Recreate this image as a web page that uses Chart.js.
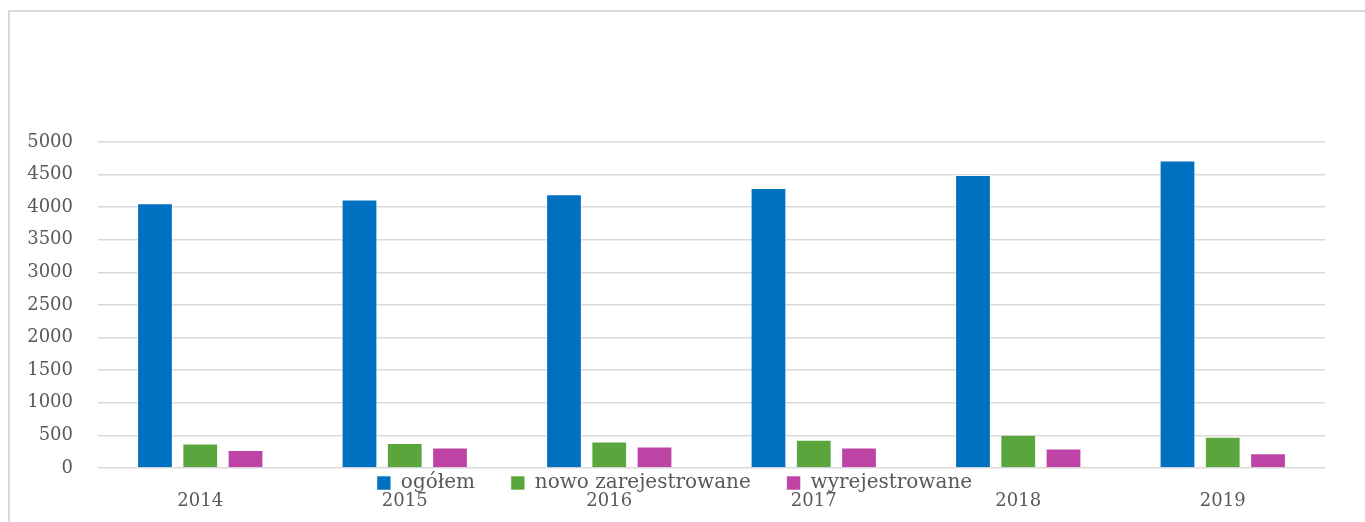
<!DOCTYPE html>
<html>
<head>
<meta charset="utf-8">
<script src="https://cdn.jsdelivr.net/npm/chart.js@4/dist/chart.umd.min.js"></script>
<style>
  body { margin: 0; background: #fff; }
  #wrap { width: 1365px; height: 522px; position: relative; }
</style>
</head>
<body>
<div id="wrap"><canvas id="regChart"></canvas></div>
<script>
// Years and series
const years = ['2014', '2015', '2016', '2017', '2018', '2019'];
const totalValues = [4060, 4120, 4200, 4295, 4495, 4715];
const newValues = [375, 385, 405, 435, 510, 480];
const removedValues = [275, 315, 330, 315, 300, 225];
const seriesNames = ['ogółem', 'nowo zarejestrowane', 'wyrejestrowane'];

// Colors for the series
const colors = ['#0070C0', '#5AA63C', '#BD44A4'];
const fontFamily = "'DejaVu Serif', 'Liberation Serif', serif";
const textColor = '#595959';

// Light frame round the chart (left and top edges only are visible)
const framePlugin = {
    id: 'frame',
    beforeDraw(chart) {
        const ctx = chart.ctx;
        ctx.save();
        ctx.strokeStyle = '#d9d9d9';
        ctx.lineWidth = 2;
        ctx.beginPath();
        ctx.moveTo(9, chart.height);
        ctx.lineTo(9, 11);
        ctx.lineTo(chart.width, 11);
        ctx.stroke();
        ctx.restore();
    }
};

// The legend sits right under the plot, over the year labels
const legendUpPlugin = {
    id: 'legendUp',
    afterLayout(chart) {
        const legend = chart.legend;
        const h = legend.height;
        legend.top = chart.chartArea.bottom + 1;
        legend.bottom = legend.top + h;
    }
};

const ctx = document.getElementById('regChart').getContext('2d');
new Chart(ctx, {
    type: 'bar',
    data: {
        labels: years,
        datasets: [
            { label: seriesNames[0], data: totalValues, backgroundColor: colors[0] },
            { label: seriesNames[1], data: newValues, backgroundColor: colors[1] },
            { label: seriesNames[2], data: removedValues, backgroundColor: colors[2] }
        ].map(ds => Object.assign(ds, {
            borderColor: 'rgba(255,255,255,0.6)',
            borderWidth: 1,
            categoryPercentage: 0.664,
            barPercentage: 0.79
        }))
    },
    options: {
        responsive: true,
        maintainAspectRatio: false,
        animation: false,
        layout: {
            padding: { top: 142, left: 24, right: 40, bottom: -20 }
        },
        scales: {
            x: {
                grid: { display: false },
                border: { display: false },
                ticks: {
                    color: textColor,
                    font: { family: fontFamily, size: 18 },
                    padding: 15,
                    maxRotation: 0
                },
                afterFit(scale) { scale.height = 40; }
            },
            y: {
                min: 0,
                max: 5000,
                grid: { color: '#d9d9d9', lineWidth: 1.5, drawTicks: false },
                border: { display: false },
                ticks: {
                    stepSize: 500,
                    color: textColor,
                    font: { family: fontFamily, size: 18 },
                    padding: 25,
                    callback: value => String(value)
                },
                afterFit(scale) { scale.width = 74; }
            }
        },
        plugins: {
            tooltip: { enabled: false },
            legend: {
                position: 'bottom',
                labels: {
                    color: textColor,
                    font: { family: fontFamily, size: 20 },
                    boxWidth: 14,
                    boxHeight: 14,
                    padding: 4,
                    generateLabels(chart) {
                        const items = Chart.defaults.plugins.legend.labels.generateLabels(chart);
                        // extra room after each item except the last
                        items.forEach((item, i) => {
                            if (i < items.length - 1) item.text += '     ';
                        });
                        return items;
                    }
                }
            }
        }
    },
    plugins: [framePlugin, legendUpPlugin]
});
</script>
</body>
</html>
